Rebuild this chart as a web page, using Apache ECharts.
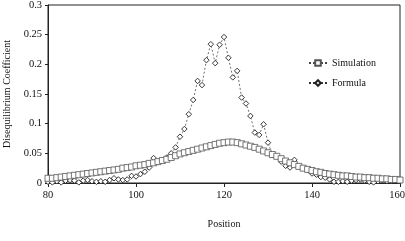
<!DOCTYPE html>
<html><head><meta charset="utf-8">
<script src="https://cdn.jsdelivr.net/npm/echarts@6/dist/echarts.min.js"></script>
<style>html,body{margin:0;padding:0;background:#fff}#c{width:405px;height:241px}</style>
</head><body><div id="c"></div>
<script>
var positions = [];
for (var p = 80; p <= 160; p++) positions.push(p);
var simulation = [
0.008,0.008,0.009,0.010,0.011,0.012,0.013,0.014,0.015,0.016,
0.017,0.018,0.019,0.020,0.021,0.022,0.023,0.025,0.026,0.027,
0.029,0.030,0.031,0.033,0.034,0.036,0.038,0.040,0.043,0.046,
0.049,0.051,0.053,0.055,0.057,0.059,0.061,0.063,0.065,0.067,
0.068,0.069,0.069,0.068,0.066,0.064,0.062,0.060,0.057,0.054,
0.051,0.048,0.045,0.041,0.037,0.034,0.031,0.028,0.025,0.023,
0.021,0.019,0.018,0.016,0.015,0.014,0.013,0.012,0.012,0.011,
0.010,0.010,0.009,0.009,0.008,0.008,0.007,0.007,0.006,0.006,
0.005];
var formula = [
0.002,0.001,0.003,0.001,0.004,0.005,0.004,0.001,0.004,0.005,
0.003,0.002,0.003,0.002,0.005,0.008,0.006,0.005,0.006,0.012,
0.011,0.015,0.019,0.026,0.042,0.035,0.038,0.043,0.050,0.060,
0.078,0.091,0.116,0.140,0.172,0.165,0.207,0.234,0.202,0.233,
0.246,0.211,0.178,0.189,0.144,0.134,0.113,0.085,0.081,0.099,
0.068,0.047,0.045,0.036,0.029,0.026,0.039,0.028,0.025,0.022,
0.016,0.014,0.010,0.009,0.006,0.002,0.002,0.003,0.002,0.004,
0.005,0.006,0.004,0.002,0.001,0.003,0.005,0.003,0.004,0.005,
0.005];
var yTicks = [0, 0.05, 0.1, 0.15, 0.2, 0.25, 0.3];
var xTicks = [80, 100, 120, 140, 160];

function pairs(vals){ return positions.map(function(x,i){ return [x, vals[i]]; }); }
var font = 'Liberation Serif';
var chart = echarts.init(document.getElementById('c'));
chart.setOption({
  animation: false,
  backgroundColor: '#fff',
  grid: { left: 48, right: 5, top: 5, bottom: 58, show: true, borderColor: '#222', borderWidth: 1,
          containLabel: false, outerBoundsMode: 'none' },
  legend: {
    left: 303, top: 53, orient: 'vertical', itemGap: 10, itemWidth: 18, itemHeight: 7,
    textStyle: { fontFamily: font, fontSize: 10, color: '#111' },
    data: ['Simulation', 'Formula']
  },
  xAxis: {
    type: 'value', min: xTicks[0], max: xTicks[xTicks.length-1], interval: 20,
    name: 'Position', nameLocation: 'middle', nameGap: 36,
    nameTextStyle: { fontFamily: font, fontSize: 10, color: '#111' },
    axisLine: { lineStyle: { color: '#222', width: 1 } },
    axisTick: { show: true, length: 4, lineStyle: { color: '#222' } },
    axisLabel: {
      fontFamily: font, fontSize: 10.5, color: '#111', margin: 7,
      formatter: function (v) { return v === xTicks[xTicks.length-1] ? '{r|' + v + '}' : String(v); },
      rich: { r: { fontFamily: font, fontSize: 10.5, color: '#111', align: 'center', padding: [0, 0, 0, -6] } }
    },
    splitLine: { show: false }
  },
  yAxis: {
    type: 'value', min: yTicks[0], max: yTicks[yTicks.length-1], interval: 0.05,
    name: 'Disequilibrium Coefficient', nameLocation: 'middle', nameGap: 36,
    nameTextStyle: { fontFamily: font, fontSize: 10, color: '#111' },
    axisLine: { show: true, lineStyle: { color: '#222', width: 1 } },
    axisTick: { show: true, length: 3, lineStyle: { color: '#222' } },
    axisLabel: { fontFamily: font, fontSize: 10.5, color: '#111', margin: 6 },
    splitLine: { show: false }
  },
  series: [
    {
      name: 'Formula', type: 'line', data: pairs(formula), z: 2,
      symbol: 'diamond', symbolSize: 5.5, showAllSymbol: true,
      lineStyle: { color: '#333', width: 0.7, type: [2, 2] },
      itemStyle: { color: '#fff', borderColor: '#222', borderWidth: 0.9 }
    },
    {
      name: 'Simulation', type: 'line', data: pairs(simulation), z: 3,
      symbol: 'rect', symbolSize: 6, showAllSymbol: true,
      lineStyle: { color: '#444', width: 0.7, type: [2, 2] },
      itemStyle: { color: '#fff', borderColor: '#555', borderWidth: 0.8 }
    }
  ]
});
</script></body></html>
